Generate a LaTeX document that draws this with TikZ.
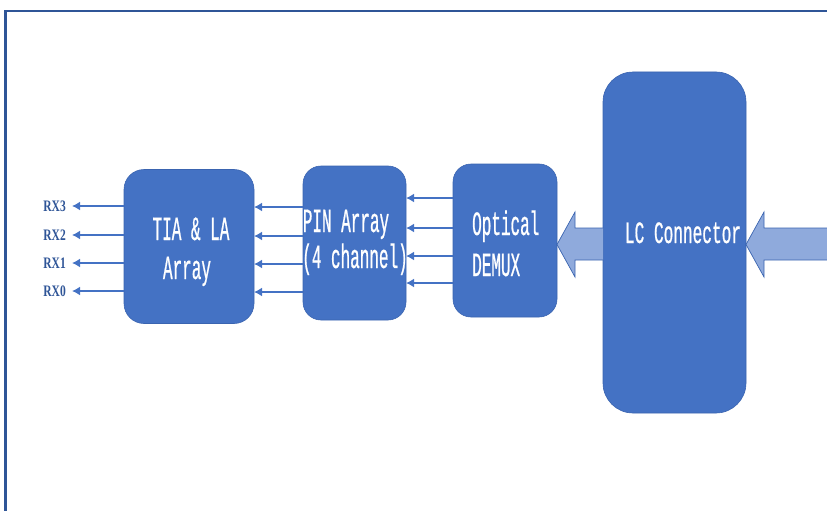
\documentclass[tikz,border=0pt]{standalone}
\usepackage{fontspec}
\newfontfamily\cf[FakeStretch=0.47,FakeBold=0.6]{Liberation Mono}
\newfontfamily\lcf[FakeStretch=0.52,FakeBold=0.6]{Liberation Mono}
\newfontfamily\rxf[FakeStretch=0.72]{Liberation Serif}
\usetikzlibrary{arrows.meta}
\definecolor{boxblue}{HTML}{4472C4}
\definecolor{boxedge}{HTML}{3A64B0}
\definecolor{lightarrow}{HTML}{8FAADC}
\definecolor{framecol}{HTML}{2F5597}
\definecolor{rxcol}{HTML}{2F5597}
\tikzset{
  blk/.style={draw=boxedge, line width=0.6pt, fill=boxblue, inner sep=0pt, outer sep=0pt},
  txt/.style={text=white, font=\cf\fontsize{34}{40}\selectfont, inner sep=0pt},
  rxl/.style={text=rxcol, font=\rxf\bfseries\fontsize{16}{18}\selectfont, inner sep=0pt, anchor=east},
  sig/.style={draw=boxblue, line width=2.4pt, -{Latex[length=8pt,width=9pt]}},
  fat/.style={draw=boxedge, line width=0.7pt, fill=lightarrow, line join=miter}
}
\begin{document}
\begin{tikzpicture}[x=1pt,y=-1pt]
\useasboundingbox (0,0) rectangle (827,511);
% frame
\draw[framecol, line width=2.2pt] (5.5,520) -- (5.5,11) -- (835,11);
% boxes
\node[blk, rounded corners=20pt, minimum width=130pt, minimum height=154pt] (tia) at (189,246.5) {};
\node[blk, rounded corners=18pt, minimum width=103pt, minimum height=154pt] (pin) at (354.5,243) {};
\node[blk, rounded corners=18pt, minimum width=104pt, minimum height=153pt] (dmx) at (505,240.5) {};
\node[blk, rounded corners=30pt, minimum width=143pt, minimum height=341pt] (lc) at (674.5,242.5) {};
% texts
\node[txt, anchor=base] (tiaT1) at (191,240) {TIA \& LA};
\node[txt, anchor=base] (tiaT2) at (187,279) {Array};
\node[txt, anchor=base] (pinT1) at (346,232) {PIN Array};
\node[txt, anchor=base] (pinT2) at (355,268) {(4 channel)};
\node[txt, anchor=base west] (dmxT1) at (472,235) {Optical};
\node[txt, anchor=base west] (dmxT2) at (472,276) {DEMUX};
\node[txt, font=\lcf\fontsize{31}{36}\selectfont, anchor=base] (lcT) at (683,243) {LC Connector};
% RX labels
\node[rxl] (rx3) at (66,206) {RX3};
\node[rxl] (rx2) at (66,235) {RX2};
\node[rxl] (rx1) at (66,263) {RX1};
\node[rxl] (rx0) at (66,291) {RX0};
\foreach \r in {rx3,rx2,rx1,rx0}{
  \draw[sig] (tia.west |- \r.east) -- ([xshift=6pt]\r.east);
}
% TIA <- PIN
\foreach \y in {207,236,264,292}{
  \draw[sig] (pin.west |- {(0,\y)}) -- (tia.east |- {(0,\y)});
}
% PIN <- DEMUX
\foreach \y in {198,228,256,283}{
  \draw[sig] (dmx.west |- {(0,\y)}) -- (pin.east |- {(0,\y)});
}
% block arrows
\draw[fat] (lc.west |- {(0,228)}) -- (575,228) -- (575,212) -- (dmx.east |- {(0,244.5)}) -- (575,277) -- (575,260) -- (lc.west |- {(0,260)});
\draw[fat] (830,228) -- (764,228) -- (764,212) -- (lc.east |- {(0,244.5)}) -- (764,277) -- (764,260) -- (830,260);
\end{tikzpicture}
\end{document}
